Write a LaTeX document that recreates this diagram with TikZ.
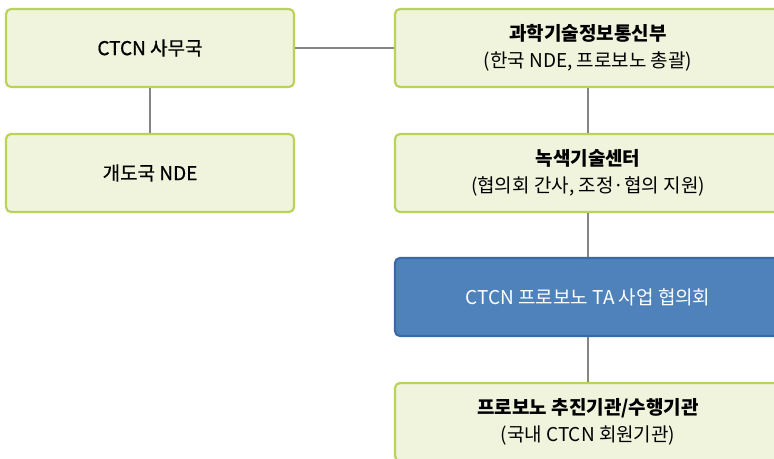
\documentclass[tikz,border=0pt]{standalone}
\usepackage{fontspec}
\setmainfont{Noto Sans CJK KR}
\newfontfamily\medfont[FakeBold=0.8]{Noto Sans CJK KR}
\definecolor{gfill}{HTML}{F0F4DC}
\definecolor{gline}{HTML}{B8D25A}
\definecolor{bfill}{HTML}{4F82BB}
\definecolor{bline}{HTML}{3A6AA5}
\definecolor{conn}{HTML}{858585}
\begin{document}
\begin{tikzpicture}[x=1pt,y=-1pt,
  gbox/.style={draw=gline,fill=gfill,line width=2.2pt,rounded corners=5pt,
    minimum width=288pt,minimum height=78pt,align=center,inner sep=0pt,
    font=\fontsize{19}{27}\selectfont},
  wbox/.style={gbox,minimum width=386pt},
  bbox/.style={wbox,draw=bline,fill=bfill,text=white},
  conn/.style={draw=conn,line width=1.6pt}]
\useasboundingbox (0,0) rectangle (774,458);
\clip (0,0) rectangle (774,458);
\node[gbox] (sec) at (150,48) {\medfont CTCN 사무국};
\node[gbox] (nde) at (150,173) {\medfont 개도국 NDE};
\node[wbox] (msit) at (588,48) {\textbf{과학기술정보통신부}\\(한국 NDE, 프로보노 총괄)};
\node[wbox] (gtc) at (588,173) {\textbf{녹색기술센터}\\(협의회 간사, 조정·협의 지원)};
\node[bbox] (ta) at (588,297) {CTCN 프로보노 TA 사업 협의회};
\node[wbox] (org) at (588,422) {\textbf{프로보노 추진기관/수행기관}\\(국내 CTCN 회원기관)};
\draw[conn] (sec.east) -- (msit.west);
\draw[conn] (sec.south) -- (nde.north);
\draw[conn] (msit.south) -- (gtc.north);
\draw[conn] (gtc.south) -- (ta.north);
\draw[conn] (ta.south) -- (org.north);
\end{tikzpicture}
\end{document}
